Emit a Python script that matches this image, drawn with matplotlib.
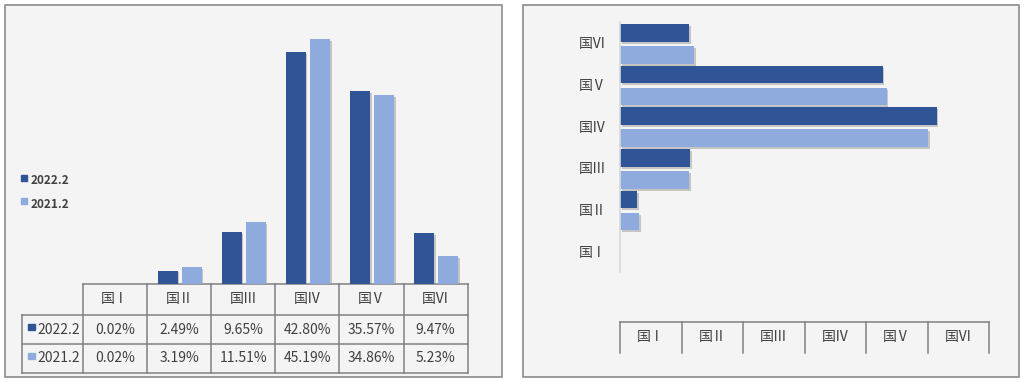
import matplotlib
matplotlib.use("Agg")
import matplotlib.pyplot as plt
import matplotlib.patheffects as pe
from matplotlib.patches import Rectangle

plt.rcParams["font.family"] = ["Noto Sans CJK SC", "DejaVu Sans"]

# data
categories = ["国Ⅰ", "国Ⅱ", "国Ⅲ", "国Ⅳ", "国Ⅴ", "国Ⅵ"]
series_names = ["2022.2", "2021.2"]
share_2022 = [0.02, 2.49, 9.65, 42.80, 35.57, 9.47]
share_2021 = [0.02, 3.19, 11.51, 45.19, 34.86, 5.23]
# right panel bars (light series, differs from table)
right_dark = [0.02, 2.30, 9.46, 42.80, 35.50, 9.32]
right_light = [0.02, 2.57, 9.32, 41.66, 36.04, 10.04]

DARK = "#2f5597"
LIGHT = "#8faadc"
PANEL = "#f4f4f4"
FRAME = "#8c8c8c"
GRID = "#808080"
TXT = "#404040"
W, H = 1024, 383

shadow = [pe.SimplePatchShadow(offset=(1.2, -1.4), shadow_rgbFace="#7f7f7f", alpha=0.4),
          pe.Normal()]


def frac(x0, y0, x1, y1):
    """pixel box (top-left origin) -> figure fraction rect"""
    return [x0 / W, 1 - y1 / H, (x1 - x0) / W, (y1 - y0) / H]


fig = plt.figure(figsize=(W / 100, H / 100), dpi=100, facecolor="white")
bg = fig.add_axes([0, 0, 1, 1])
bg.set_xlim(0, W); bg.set_ylim(H, 0); bg.axis("off")

# panel frames
for x0, x1 in [(5, 502), (523, 1019)]:
    bg.add_patch(Rectangle((x0, 5), x1 - x0, 372, facecolor=PANEL, edgecolor=FRAME, lw=1.2))

# ---------------- left: column chart + data table ----------------
L0, L1 = 83, 467.7
base_y = 284
axl = fig.add_axes(frac(L0, 13, L1, base_y))
axl.set_facecolor("none")
xs = range(len(categories))
b1 = axl.bar([x - 0.18 for x in xs], share_2022, width=0.31, color=DARK)
b2 = axl.bar([x + 0.195 for x in xs], share_2021, width=0.31, color=LIGHT)
for b in list(b1) + list(b2):
    b.set_path_effects(shadow)
axl.set_xlim(-0.5, len(categories) - 0.5)
axl.set_ylim(0, 50)
axl.axis("off")

cw = (L1 - L0) / len(categories)
rows = [284, 315, 344, 373]
bg.plot([L0, L1], [rows[0]] * 2, color=GRID, lw=1.1)
for y in rows[1:]:
    bg.plot([22, L1], [y, y], color=GRID, lw=1.1)
bg.plot([22, 22], [rows[1], rows[3]], color=GRID, lw=1.1)
for i in range(len(categories) + 1):
    x = L0 + i * cw
    bg.plot([x, x], [rows[0], rows[3]], color=GRID, lw=1.1)
for i, c in enumerate(categories):
    cx = L0 + (i + 0.5) * cw
    bg.text(cx, (rows[0] + rows[1]) / 2, c, ha="center", va="center", fontsize=10, color=TXT)
    bg.text(cx, (rows[1] + rows[2]) / 2, f"{share_2022[i]:.2f}%", ha="center", va="center",
            fontsize=10, color=TXT)
    bg.text(cx, (rows[2] + rows[3]) / 2, f"{share_2021[i]:.2f}%", ha="center", va="center",
            fontsize=10, color=TXT)
for r, (name, col) in enumerate(zip(series_names, [DARK, LIGHT])):
    yc = (rows[r + 1] + rows[r + 2]) / 2
    bg.add_patch(Rectangle((28.3, yc - 6), 6.5, 6.5, color=col))
    bg.text(37, yc, name, ha="left", va="center", fontsize=10, color=TXT)

# legend
for name, col, yc in zip(series_names, [DARK, LIGHT], [181, 204]):
    bg.add_patch(Rectangle((21, yc - 6), 6.3, 6.3, color=col))
    bg.text(31, yc, name, ha="left", va="center", fontsize=8.5, fontweight="bold", color=TXT)

# ---------------- right: horizontal bar chart ----------------
R0, R1 = 620, 989.3
axr = fig.add_axes(frac(R0, 22, R1, 272))
axr.set_facecolor("none")
h1 = axr.barh([y + 0.24 for y in xs], right_dark, height=0.425, color=DARK)
h2 = axr.barh([y - 0.29 for y in xs], right_light, height=0.425, color=LIGHT)
for b in list(h1) + list(h2):
    b.set_path_effects(shadow)
axr.set_ylim(-0.5, len(categories) - 0.5)
axr.set_xlim(0, (R1 - R0) / 7.4)
axr.set_yticks(list(xs))
axr.set_yticklabels(categories, fontsize=10, color=TXT)
axr.tick_params(axis="y", length=0, pad=10)
axr.set_xticks([])
for s in ["top", "right", "bottom"]:
    axr.spines[s].set_visible(False)
axr.spines["left"].set_color("#d9d9d9")
axr.spines["left"].set_linewidth(1.2)

# category strip under the right chart
rw = (R1 - R0) / len(categories)
bg.plot([R0, R1], [322, 322], color=GRID, lw=1.1)
for i in range(len(categories) + 1):
    x = R0 + i * rw
    bg.plot([x, x], [322, 353], color=GRID, lw=1.1)
for i, c in enumerate(categories):
    bg.text(R0 + (i + 0.5) * rw, 337.5, c, ha="center", va="center", fontsize=10, color=TXT)

fig.savefig("out.png", dpi=100, facecolor="white")
